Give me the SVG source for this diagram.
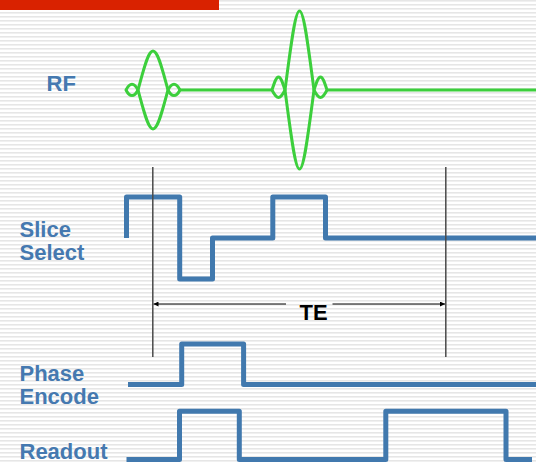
<svg xmlns="http://www.w3.org/2000/svg" width="536" height="463" viewBox="0 0 536 463">
  <defs>
    <pattern id="stripes" x="0" y="0" width="8" height="4" patternUnits="userSpaceOnUse">
      <rect x="0" y="0" width="8" height="1.6" fill="#e6e6e6"/>
    </pattern>
    <marker id="ah" viewBox="0 0 10 10" refX="10" refY="5" markerWidth="5" markerHeight="5" orient="auto-start-reverse" markerUnits="userSpaceOnUse">
      <path d="M0,0 L10,5 L0,10 Z" fill="#000"/>
    </marker>
    <style>
      .lbl { font-family: "Liberation Sans", Arial, Helvetica, sans-serif; font-weight: bold; font-size: 22px; fill: #4579b0; }
      .te { font-family: "Liberation Sans", Arial, Helvetica, sans-serif; font-weight: bold; font-size: 22px; fill: #000; }
      .grad { fill: none; stroke: #4179ae; stroke-width: 5; stroke-linejoin: round; }
      .rf { fill: none; stroke: #3ccf3c; stroke-width: 3; stroke-linejoin: round; }
      .vl { stroke: #4a4a4a; stroke-width: 1.5; }
      .arr { stroke: #000; stroke-width: 1; fill: none; }
    </style>
  </defs>
  <rect x="0" y="0" width="536" height="463" fill="#ffffff"/>
  <rect x="0" y="0" width="536" height="463" fill="url(#stripes)"/>
  <rect x="0" y="0" width="219" height="10" fill="#d92200"/>

  <g id="label-rf"><text class="lbl" x="46.5" y="91">RF</text></g>
  <g id="label-slice"><text class="lbl" x="19.5" y="237">Slice</text><text class="lbl" x="19.5" y="260">Select</text></g>
  <g id="label-phase"><text class="lbl" x="19.5" y="381">Phase</text><text class="lbl" x="19.5" y="404">Encode</text></g>
  <g id="label-readout"><text class="lbl" x="19.5" y="459">Readout</text></g>

  <g id="rf-wave">
    <path class="rf" d="M126,90 C127.5,87 129.5,84.3 132,84.3 C134.5,84.3 136.5,87 138,90 C136.5,93 134.5,95.5 132,95.5 C129.5,95.5 127.5,93 126,90 Z"/>
    <path class="rf" d="M138,90 C144,68 148,51 153,51 C158,51 162,68 168,90 C162,112 158,129 153,129 C148,129 144,112 138,90 Z"/>
    <path class="rf" d="M168,90 C169.5,87 171.5,84.3 174,84.3 C176.5,84.3 178.5,87 180,90 C178.5,93 176.5,95.5 174,95.5 C171.5,95.5 169.5,93 168,90 Z"/>
    <path class="rf" d="M180,90 H272"/>
    <path class="rf" d="M272,90 C274,84 276,77 278.5,77 C281,77 283,84 285,90 C283,94 281,97.5 278.5,97.5 C276,97.5 274,94 272,90 Z"/>
    <path class="rf" d="M285,90 C291,45 295,11 299.5,11 C304,11 308,45 314,90 C308,135 304,169 299.5,169 C295,169 291,135 285,90 Z"/>
    <path class="rf" d="M314,90 C316,84 318,77 320.5,77 C323,77 325,84 327,90 C325,94 323,97.5 320.5,97.5 C318,97.5 316,94 314,90 Z"/>
    <path class="rf" d="M327,90 H536"/>
  </g>

  <g id="slice-wave"><path class="grad" d="M126.5,238 V197 H179.7 V279 H212.5 V238 H272.8 V197 H325.5 V238 H536"/></g>
  <g id="phase-wave"><path class="grad" d="M128,384.5 H181.7 V344 H243.6 V384.5 H536"/></g>
  <g id="readout-wave"><path class="grad" d="M126.5,459.5 H179.5 V411.3 H239.3 V459.5 H385.8 V411.3 H506 V459.5 H532"/></g>

  <g id="connectors">
    <line class="vl" x1="152.8" y1="167" x2="152.8" y2="357"/>
    <line class="vl" x1="445.8" y1="167" x2="445.8" y2="357"/>
    <line class="arr" x1="286" y1="304" x2="153.5" y2="304" marker-end="url(#ah)"/>
    <line class="arr" x1="332.5" y1="304" x2="445" y2="304" marker-end="url(#ah)"/>
  </g>
  <g id="label-te"><text class="te" x="313.5" y="319.5" text-anchor="middle">TE</text></g>
</svg>
